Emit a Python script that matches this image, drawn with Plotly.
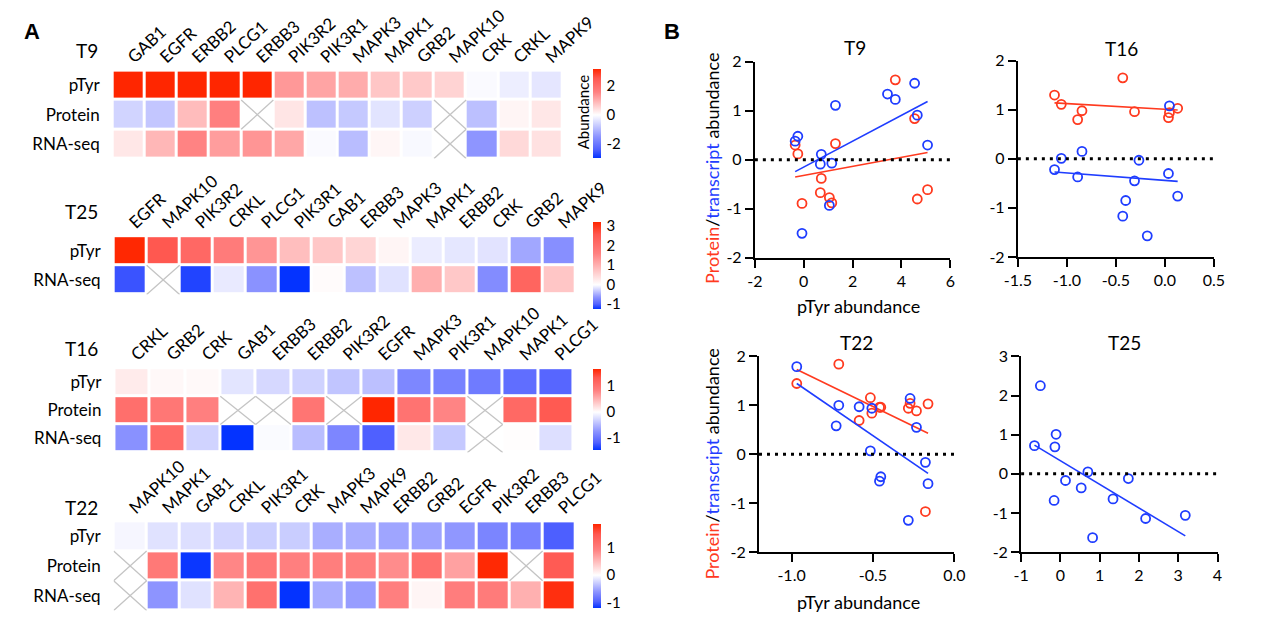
import numpy as np
import plotly.graph_objects as go

W, H = 1265, 620
nan = float("nan")
FONT = "Lato"

ROWS3 = ["pTyr", "Protein", "RNA-seq"]
ROWS2 = ["pTyr", "RNA-seq"]

# ---------------- data ----------------
t9_genes = ["GAB1", "EGFR", "ERBB2", "PLCG1", "ERBB3", "PIK3R2", "PIK3R1", "MAPK3", "MAPK1", "GRB2", "MAPK10", "CRK", "CRKL", "MAPK9"]
t9_ptyr = [5.07, 4.65, 4.54, 3.75, 3.43, 1.30, 1.15, 1.05, 0.72, 0.68, 0.55, -0.07, -0.24, -0.35]
t9_protein = [-0.61, -0.80, 0.84, 1.63, nan, 0.33, -0.88, -0.77, -0.38, -0.67, nan, -0.89, 0.12, 0.30]
t9_rna = [0.30, 0.91, 1.56, 1.23, 1.34, 1.11, -0.07, -0.93, 0.11, -0.09, nan, -1.50, 0.48, 0.38]

t25_genes = ["EGFR", "MAPK10", "PIK3R2", "CRKL", "PLCG1", "PIK3R1", "GAB1", "ERBB3", "MAPK3", "MAPK1", "ERBB2", "CRK", "GRB2", "MAPK9"]
t25_ptyr = [3.18, 2.55, 2.17, 1.73, 1.34, 0.82, 0.70, 0.53, 0.13, -0.11, -0.14, -0.16, -0.51, -0.66]
t25_rna = [-1.06, nan, -1.14, -0.12, -0.64, -1.63, 0.05, -0.36, -0.17, 1.01, 0.69, -0.68, 2.25, 0.72]

t16_genes = ["CRKL", "GRB2", "CRK", "GAB1", "ERBB3", "ERBB2", "PIK3R2", "EGFR", "MAPK3", "PIK3R1", "MAPK10", "MAPK1", "PLCG1"]
t16_ptyr = [0.13, 0.046, 0.036, -0.18, -0.265, -0.31, -0.40, -0.43, -0.846, -0.89, -0.95, -1.057, -1.126]
t16_protein = [1.03, 0.94, 0.84, nan, nan, 0.96, nan, 1.65, 0.98, 0.80, nan, 1.11, 1.30]
t16_rna = [-0.76, 1.08, -0.30, -1.57, -0.03, -0.45, -0.85, -1.17, 0.15, -0.37, nan, 0.01, -0.22]

t22_genes = ["MAPK10", "MAPK1", "GAB1", "CRKL", "PIK3R1", "CRK", "MAPK3", "MAPK9", "ERBB2", "GRB2", "EGFR", "PIK3R2", "ERBB3", "PLCG1"]
t22_ptyr = [-0.05, -0.162, -0.178, -0.233, -0.272, -0.283, -0.452, -0.46, -0.507, -0.516, -0.585, -0.71, -0.726, -0.968]
t22_protein = [nan, 1.03, -1.17, 0.885, 1.04, 0.94, 0.96, 0.96, 0.84, 1.155, 0.69, 1.84, nan, 1.445]
t22_rna = [nan, -0.60, -0.165, 0.55, 1.14, -1.35, -0.46, -0.55, 0.94, 0.07, 0.97, 1.00, 0.58, 1.79]

# colorbar ranges / ticks
t9_zrange = [-3.0, 3.2]
t25_zrange = [-1.23, 3.2]
t16_zrange = [-1.45, 1.65]
t22_zrange = [-1.19, 1.86]
t9_cbticks = [-2, 0, 2]
t25_cbticks = [-1, 0, 1, 2, 3]
t16_cbticks = [-1, 0, 1]
t22_cbticks = [-1, 0, 1]

# scatter axis ticks
t9_xticks = [-2, 0, 2, 4, 6]
t9_xlabels = ["-2", "0", "2", "4", "6"]
t16_xticks = [-1.5, -1.0, -0.5, 0.0, 0.5]
t16_xlabels = ["-1.5", "-1.0", "-0.5", "0.0", "0.5"]
t22_xticks = [-1.0, -0.5, 0.0]
t22_xlabels = ["-1.0", "-0.5", "0.0"]
t25_xticks = [-1, 0, 1, 2, 3, 4]
t25_xlabels = ["-1", "0", "1", "2", "3", "4"]
y4_ticks = [-2, -1, 0, 1, 2]
y4_labels = ["-2", "-1", "0", "1", "2"]
y5_ticks = [-2, -1, 0, 1, 2, 3]
y5_labels = ["-2", "-1", "0", "1", "2", "3"]

RED = "#ff3a1f"
BLUE = "#1f3dff"
# heatmap colour stops: (fraction of half-scale away from white, colour)
BLUE_STOPS = [(1.0, "#0433ff"), (0.8, "#5262ff"), (0.5, "#8e95ff")]
RED_STOPS = [(0.5, "#ff8080"), (0.8, "#ff5850"), (1.0, "#ff2600")]


def px_x(a):
    return a / W


def px_y(b):
    return 1 - b / H


fig = go.Figure()
layout = dict(
    width=W, height=H, margin=dict(l=0, r=0, t=0, b=0),
    paper_bgcolor="white", plot_bgcolor="white",
    font=dict(family=FONT, size=16, color="black"),
    showlegend=False,
)
annotations = []
shapes = []


def lbl(v):
    return ("-" if v < 0 else "") + (f"{abs(v):g}")


def make_scale(mid):
    cs = [[mid * (1 - f), c] for f, c in BLUE_STOPS]
    cs.append([mid, "#ffffff"])
    cs += [[mid + (1 - mid) * f, c] for f, c in RED_STOPS]
    return cs


def add_heatmap(k, genes, rows, zrows, zr, xd, yd, cb, cbticks, title, title_y):
    n = len(genes)
    z = np.array(zrows, dtype=float)
    zmin, zmax = zr
    mid = -zmin / (zmax - zmin)
    xa, ya = f"x{k}", f"y{k}"
    fig.add_trace(go.Heatmap(
        z=z, x=list(range(n)), y=list(range(len(rows))),
        zmin=zmin, zmax=zmax, colorscale=make_scale(mid), xgap=3, ygap=3,
        xaxis=xa, yaxis=ya, hoverongaps=False,
        colorbar=dict(
            x=px_x(602.7), xanchor="left", xref="paper", xpad=0,
            y=px_y((cb[0] + cb[1]) / 2), yanchor="middle", yref="paper", ypad=0,
            len=(cb[1] - cb[0]) / H, lenmode="fraction",
            thickness=8, outlinewidth=0, ticks="outside", ticklen=3,
            tickcolor="rgba(0,0,0,0)",
            tickvals=cbticks, ticktext=[lbl(v) for v in cbticks],
            tickfont=dict(size=15, family=FONT),
        ),
    ))
    # crosses for missing cells
    xs, ys = [], []
    for r in range(z.shape[0]):
        for i in range(n):
            if np.isnan(z[r, i]):
                xs += [i - 0.5, i + 0.5, None, i - 0.5, i + 0.5, None]
                ys += [r - 0.5, r + 0.5, None, r + 0.5, r - 0.5, None]
    if xs:
        fig.add_trace(go.Scatter(x=xs, y=ys, mode="lines", xaxis=xa, yaxis=ya,
                                 line=dict(color="#c4c4c4", width=1.3), hoverinfo="skip"))
    layout[f"xaxis{k}"] = dict(
        domain=[px_x(xd[0]), px_x(xd[1])], anchor=ya, range=[-0.5, n - 0.5],
        side="top", tickvals=list(range(n)), ticktext=genes, tickangle=-43,
        ticks="", showgrid=False, zeroline=False, showline=False,
        tickfont=dict(size=17, family=FONT), fixedrange=True,
    )
    layout[f"yaxis{k}"] = dict(
        domain=[px_y(yd[1]), px_y(yd[0])], anchor=xa, range=[len(rows) - 0.5, -0.5],
        tickvals=list(range(len(rows))), ticktext=rows, ticks="",
        showgrid=False, zeroline=False, showline=False, ticklabelstandoff=12,
        tickfont=dict(size=17, family=FONT), fixedrange=True,
    )
    annotations.append(dict(text=title, x=px_x(89), y=px_y(title_y), xref="paper", yref="paper",
                            xanchor="right", yanchor="middle", showarrow=False,
                            font=dict(size=19, family=FONT)))


add_heatmap(1, t9_genes, ROWS3, [t9_ptyr, t9_protein, t9_rna], t9_zrange,
            (102.65, 570.65), (62.5, 153.3), (60.7, 152.3), t9_cbticks, "T9", 42)
add_heatmap(2, t25_genes, ROWS2, [t25_ptyr, t25_rna], t25_zrange,
            (103.65, 584.35), (233.3, 293.4), (218.3, 308.3), t25_cbticks, "T25", 208)
add_heatmap(3, t16_genes, ROWS3, [t16_ptyr, t16_protein, t16_rna], t16_zrange,
            (104.45, 581.85), (369.5, 456.5), (370, 454), t16_cbticks, "T16", 349)
add_heatmap(4, t22_genes, ROWS3, [t22_ptyr, t22_protein, t22_rna], t22_zrange,
            (103.65, 584.25), (527.5, 619.5), (530, 617), t22_cbticks, "T22", 513)


def add_scatter(k, ptyr, prot, rna, xr, yr, xt, xl, yt, yl, xd, yd, title, title_xy):
    xa, ya = f"x{k}", f"y{k}"
    x = np.array(ptyr, dtype=float)
    shapes.append(dict(type="line", xref=f"{xa} domain", yref=ya, x0=0, x1=1, y0=0, y1=0,
                       line=dict(color="black", width=3, dash="3px,5px")))
    for vals, col in ((prot, RED), (rna, BLUE)):
        if vals is None:
            continue
        y = np.array(vals, dtype=float)
        m = ~np.isnan(y)
        fig.add_trace(go.Scatter(
            x=x[m], y=y[m], mode="markers", xaxis=xa, yaxis=ya,
            marker=dict(symbol="circle-open", size=9, color=col, line=dict(width=1.8, color=col)),
        ))
        b, a = np.polyfit(x[m], y[m], 1)
        xs = np.array([x[m].min(), x[m].max()])
        fig.add_trace(go.Scatter(x=xs, y=a + b * xs, mode="lines", xaxis=xa, yaxis=ya,
                                 line=dict(color=col, width=1.6), hoverinfo="skip"))
    common = dict(showline=True, linecolor="black", linewidth=2, ticks="outside", ticklen=8,
                  tickwidth=2, tickcolor="black", showgrid=False, zeroline=False,
                  tickfont=dict(size=16, family=FONT), fixedrange=True)
    layout[f"xaxis{k}"] = dict(domain=[px_x(xd[0]), px_x(xd[1])], anchor=ya, range=xr,
                               tickvals=xt, ticktext=xl, **common)
    layout[f"yaxis{k}"] = dict(domain=[px_y(yd[1]), px_y(yd[0])], anchor=xa, range=yr,
                               tickvals=yt, ticktext=yl, **common)
    annotations.append(dict(text=title, x=px_x(title_xy[0]), y=px_y(title_xy[1]), xref="paper", yref="paper",
                            xanchor="center", yanchor="middle", showarrow=False,
                            font=dict(size=19, family=FONT)))


add_scatter(5, t9_ptyr, t9_protein, t9_rna, [-2, 6], [-2, 2], t9_xticks, t9_xlabels, y4_ticks, y4_labels,
            (770.7, 974.0), (53.3, 255.7), "T9", (875, 39))
add_scatter(6, t16_ptyr, t16_protein, t16_rna, [-1.5, 0.5], [-2, 2], t16_xticks, t16_xlabels, y4_ticks, y4_labels,
            (1044.3, 1248.3), (52.3, 254.7), "T16", (1152, 40))
add_scatter(7, t22_ptyr, t22_protein, t22_rna, [-1.2, 0.0], [-2, 2], t22_xticks, t22_xlabels, y4_ticks, y4_labels,
            (775.0, 978.3), (357.3, 559.3), "T22", (876, 343))
add_scatter(8, t25_ptyr, None, t25_rna, [-1, 4], [-2, 3], t25_xticks, t25_xlabels, y5_ticks, y5_labels,
            (1047.7, 1252.0), (357.3, 559.3), "T25", (1155, 343))

ytitle = (f'<span style="color:{RED}">Protein</span>/'
          f'<span style="color:{BLUE}">transcript</span> abundance')
for yc in (163, 468):
    annotations.append(dict(text=ytitle, x=px_x(726), y=px_y(yc), xref="paper", yref="paper",
                            textangle=-90, xanchor="center", yanchor="middle", showarrow=False,
                            font=dict(size=18, family=FONT)))
for yc in (305, 611):
    annotations.append(dict(text="pTyr abundance", x=px_x(879), y=px_y(yc), xref="paper", yref="paper",
                            xanchor="center", yanchor="middle", showarrow=False,
                            font=dict(size=18, family=FONT)))

annotations.append(dict(text="Abundance", x=px_x(592), y=px_y(105.5), xref="paper", yref="paper",
                        textangle=-90, xanchor="center", yanchor="middle", showarrow=False,
                        font=dict(size=15, family=FONT)))
annotations.append(dict(text="<b>A</b>", x=px_x(19), y=px_y(22), xref="paper", yref="paper",
                        xanchor="center", yanchor="middle", showarrow=False,
                        font=dict(size=22, family="Liberation Sans")))
annotations.append(dict(text="<b>B</b>", x=px_x(685), y=px_y(22), xref="paper", yref="paper",
                        xanchor="center", yanchor="middle", showarrow=False,
                        font=dict(size=22, family="Liberation Sans")))

layout["annotations"] = annotations
layout["shapes"] = shapes
fig.update_layout(**layout)

fig.write_html("out.html", config={"displayModeBar": False},
               post_script="document.body.style.margin='0';")
